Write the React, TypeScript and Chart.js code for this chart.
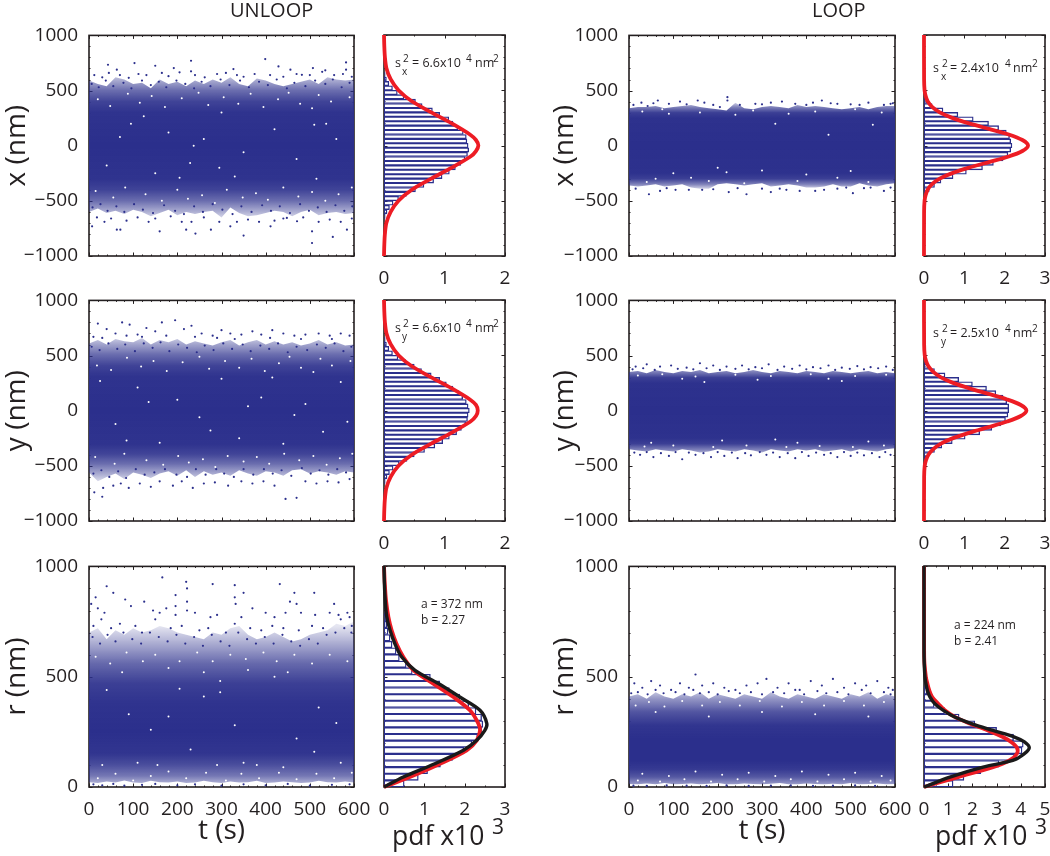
import React, { useEffect, useRef } from "react";
import { Chart, registerables } from "chart.js";
Chart.register(...registerables);

const FONT = "'Open Sans', sans-serif";
const INK = "#231f20";
const BLUE = "#2b2f8c";

const tGrid = [0,20,40,60,80,100,120,140,160,180,200,220,240,260,280,300,320,340,360,380,400,420,440,460,480,500,520,540,560,580,600];

// UNLOOP x
const ulxOuterHi = [590,560,540,620,600,560,570,520,600,560,580,540,590,560,600,570,620,560,540,610,590,560,540,560,580,600,560,620,600,590,600];
const ulxOuterLo = [-600,-570,-610,-590,-620,-580,-600,-640,-610,-580,-630,-600,-620,-600,-590,-650,-560,-610,-640,-630,-610,-590,-600,-640,-600,-580,-630,-610,-600,-620,-610];
const ulxDots = [[43,734],[63,689],[103,749],[150,725],[192,704],[231,770],[231,674],[327,695],[399,785],[429,719],[456,689],[482,643],[507,704],[535,683],[582,755],[582,689],[7,-731],[63,-761],[71,-761],[160,-776],[220,-761],[241,-797],[276,-761],[320,-731],[350,-815],[411,-731],[505,-882],[552,-827],[584,-761],[505,-776],[448,-655],[471,-685],[12,640],[30,620],[45,660],[70,640],[90,615],[112,650],[130,640],[165,660],[180,630],[205,665],[240,640],[262,620],[290,650],[310,660],[335,640],[350,625],[375,650],[410,640],[440,625],[470,650],[500,640],[528,670],[555,640],[575,650],[595,625],[18,-650],[35,-690],[50,-660],[85,-680],[110,-650],[135,-690],[150,-660],[185,-640],[210,-690],[232,-690],[260,-650],[295,-690],[335,-690],[360,-670],[385,-690],[420,-680],[440,-660],[485,-650],[520,-690],[545,-670],[570,-690],[595,-660],[6,560],[22,530],[38,590],[55,540],[78,570],[96,520],[120,590],[140,550],[158,580],[175,530],[198,590],[218,560],[238,520],[255,580],[275,540],[298,600],[318,550],[342,590],[362,530],[385,580],[405,550],[425,600],[448,520],[465,570],[490,540],[512,590],[535,560],[552,600],[572,530],[590,570],[8,-560],[26,-530],[42,-590],[62,-550],[80,-600],[102,-530],[122,-580],[145,-610],[170,-540],[195,-590],[215,-620],[238,-550],[258,-600],[280,-530],[302,-580],[325,-620],[345,-550],[368,-600],[392,-540],[412,-590],[432,-550],[455,-610],[478,-530],[498,-590],[518,-560],[538,-600],[558,-540],[578,-590],[596,-550]];
const ulxSpecks = [[124,266],[229,-157],[237,0],[295,-200],[515,-300],[510,190],[537,200],[300,300],[70,80],[150,-250],[180,120],[260,60],[350,-60],[420,150],[470,-120],[40,-180],[560,60],[330,-280],[95,200],[205,-290],[20,420],[48,360],[88,470],[115,390],[142,450],[172,350],[210,430],[248,480],[270,370],[305,440],[338,380],[366,470],[395,350],[428,420],[452,480],[478,380],[505,340],[520,460],[548,400],[590,440],[15,-410],[55,-470],[82,-380],[128,-440],[165,-500],[200,-400],[224,-480],[256,-450],[285,-520],[312,-400],[348,-470],[378,-430],[405,-490],[440,-380],[474,-460],[505,-420],[535,-500],[565,-440],[595,-380]];
const ulxStops = [[1000,0],[680,0.1],[600,0.38],[500,0.7],[400,0.9],[300,0.98],[0,1],[-300,0.98],[-400,0.9],[-500,0.7],[-600,0.38],[-680,0.1],[-1000,0]];
const ulxCurveV = [-1000,-900,-800,-700,-600,-500,-400,-300,-200,-100,-50,0,50,100,200,300,400,500,600,700,800,900,1000];
const ulxCurvePdf = [0,0.005,0.015,0.04,0.11,0.24,0.46,0.78,1.12,1.43,1.52,1.56,1.52,1.42,1.12,0.78,0.46,0.24,0.11,0.04,0.015,0.005,0];
const ulxBinV = [-640,-600,-560,-520,-480,-440,-400,-360,-320,-280,-240,-200,-160,-120,-80,-40,0,40,80,120,160,200,240,280,320,360,400,440,480,520,560,600,640];
const ulxBinPdf = [0.02,0.05,0.09,0.15,0.24,0.37,0.52,0.66,0.82,0.96,1.08,1.18,1.27,1.34,1.38,1.4,1.39,1.37,1.36,1.31,1.22,1.14,1.07,0.92,0.8,0.63,0.52,0.33,0.22,0.14,0.08,0.04,0.02];

// UNLOOP y
const ulyOuterHi = [610,640,600,650,630,620,660,600,640,620,650,600,630,610,590,620,640,590,620,640,600,630,600,620,590,610,640,600,620,590,600];
const ulyOuterLo = [-560,-640,-600,-570,-620,-560,-580,-610,-570,-550,-590,-540,-600,-550,-580,-560,-590,-540,-570,-590,-550,-560,-590,-540,-530,-570,-550,-560,-580,-550,-560];
const ulyDots = [[20,790],[40,740],[60,700],[75,800],[92,780],[110,690],[130,750],[150,720],[165,800],[195,820],[215,740],[232,770],[255,700],[280,680],[300,730],[320,700],[345,690],[370,720],[390,690],[415,730],[440,700],[465,680],[490,690],[520,700],[545,680],[570,700],[590,680],[10,670],[30,660],[85,680],[120,670],[175,680],[240,670],[290,660],[330,650],[410,660],[480,650],[550,650],[12,-740],[30,-780],[32,-700],[55,-680],[72,-660],[90,-700],[115,-660],[140,-690],[160,-640],[190,-680],[210,-640],[235,-700],[260,-660],[285,-650],[315,-680],[345,-640],[370,-660],[395,-640],[420,-680],[445,-800],[470,-790],[490,-640],[515,-660],[540,-640],[565,-650],[590,-620],[6,580],[24,550],[44,610],[64,560],[82,600],[104,540],[124,610],[144,570],[162,620],[182,540],[202,600],[222,570],[244,530],[262,590],[282,550],[304,610],[324,560],[348,600],[366,540],[388,590],[408,560],[428,610],[450,530],[470,580],[494,550],[516,600],[536,570],[556,610],[576,540],[594,580],[10,-570],[28,-540],[46,-600],[66,-550],[84,-610],[106,-530],[126,-580],[148,-560],[172,-530],[198,-580],[222,-600],[242,-530],[264,-580],[288,-530],[306,-570],[328,-600],[350,-530],[372,-580],[396,-530],[416,-570],[436,-540],[458,-590],[482,-520],[502,-570],[522,-540],[542,-580],[562,-530],[582,-560]];
const ulySpecks = [[60,-120],[110,210],[160,-290],[200,100],[250,-60],[300,290],[340,-250],[390,120],[440,-300],[490,60],[530,-190],[570,260],[25,270],[85,-270],[135,80],[275,-180],[360,40],[415,300],[465,-40],[585,-100],[18,410],[50,370],[86,480],[118,400],[146,450],[176,360],[212,440],[250,490],[272,380],[308,450],[340,390],[368,470],[398,360],[430,430],[454,490],[480,390],[508,350],[524,470],[550,410],[592,450],[14,-420],[58,-480],[80,-390],[130,-450],[168,-490],[202,-410],[226,-470],[258,-440],[286,-510],[314,-410],[350,-460],[380,-420],[408,-480],[442,-390],[476,-450],[508,-410],[538,-490],[568,-430],[596,-390]];
const ulyStops = [[1000,0],[700,0.1],[620,0.38],[510,0.7],[410,0.9],[310,0.98],[0,1],[-300,0.98],[-390,0.9],[-480,0.7],[-580,0.38],[-660,0.1],[-1000,0]];
const ulyCurveV = ulxCurveV;
const ulyCurvePdf = [0,0.005,0.015,0.04,0.11,0.24,0.46,0.78,1.12,1.43,1.52,1.55,1.52,1.42,1.12,0.78,0.46,0.24,0.11,0.04,0.015,0.005,0];
const ulyBinV = ulxBinV;
const ulyBinPdf = [0.02,0.05,0.09,0.15,0.25,0.38,0.5,0.67,0.84,0.97,1.08,1.2,1.28,1.35,1.38,1.39,1.41,1.39,1.36,1.3,1.24,1.14,1.03,0.92,0.78,0.62,0.5,0.36,0.23,0.14,0.08,0.04,0.02];

// UNLOOP r
const ulrOuterHi = [700,720,670,710,690,720,700,710,730,720,700,690,680,670,700,690,720,730,690,670,680,700,680,660,670,690,700,710,740,730,750];
const ulrOuterLo = [22,18,25,20,30,20,18,28,22,20,25,18,20,28,22,18,25,20,22,28,18,20,25,22,18,20,28,22,20,25,20];
const ulrDots = [[5,830],[15,860],[40,910],[55,880],[20,810],[35,790],[82,850],[95,820],[125,840],[145,800],[160,790],[166,950],[175,810],[196,870],[196,820],[196,780],[220,930],[222,900],[222,840],[222,800],[240,790],[280,920],[275,770],[290,780],[330,915],[330,860],[332,830],[350,880],[345,770],[370,810],[400,790],[420,770],[432,920],[445,790],[465,880],[455,840],[470,830],[480,790],[510,880],[512,780],[555,830],[545,790],[565,780],[585,790],[590,770],[10,730],[28,760],[50,720],[70,740],[105,730],[120,700],[150,760],[185,720],[210,730],[250,710],[270,720],[310,700],[330,740],[365,720],[390,710],[415,730],[440,720],[475,710],[505,730],[530,720],[570,760],[595,730],[10,12],[30,8],[55,14],[80,6],[120,10],[150,14],[200,8],[240,12],[300,6],[350,12],[400,8],[450,14],[500,6],[550,10],[590,12],[8,680],[25,650],[42,690],[60,660],[78,700],[98,670],[118,650],[138,700],[158,680],[178,660],[198,690],[218,650],[238,680],[258,640],[278,690],[298,660],[318,640],[338,700],[358,670],[378,650],[398,680],[418,650],[438,690],[458,660],[478,640],[498,670],[518,650],[538,690],[558,700],[578,720],[594,700]];
const ulrSpecks = [[360,530],[297,430],[297,480],[205,445],[90,330],[140,260],[180,320],[230,170],[260,410],[330,280],[350,110],[420,500],[470,220],[520,360],[570,110],[40,440],[30,100],[110,110],[290,100],[380,100],[440,90],[510,160],[560,290],[75,520],[155,100],[260,520],[450,520],[180,540],[15,590],[48,560],[85,610],[122,570],[150,600],[205,570],[245,610],[280,570],[320,600],[355,580],[395,610],[425,570],[465,600],[505,560],[545,600],[585,570],[20,40],[60,60],[100,30],[140,50],[180,70],[220,40],[265,65],[310,30],[345,60],[385,40],[430,65],[470,35],[515,60],[555,40],[595,65]];
const ulrStops = [[1000,0],[730,0.12],[650,0.4],[560,0.72],[470,0.92],[380,0.98],[250,1],[150,0.97],[100,0.85],[50,0.65],[20,0.4],[0,0.2]];
const ulrCurveV = [0,45,105,166,211,256,287,347,407,468,528,588,648,709,769,845,920,1000];
const ulrRedPdf = [0,0.64,1.39,2.05,2.3,2.38,2.34,2.13,1.72,1.22,0.73,0.48,0.31,0.19,0.11,0.05,0.02,0];
const ulrBlackPdf = [0,0.48,1.26,1.97,2.3,2.5,2.55,2.38,1.88,1.35,0.77,0.44,0.27,0.15,0.07,0.03,0.01,0];
const ulrBinV = [15,45,75,105,135,165,195,225,255,285,315,345,375,405,435,465,495,525,555,585,615,645,675,705,735,765,795];
const ulrBinPdf = [0.5,0.85,1.08,1.4,1.7,1.98,2.18,2.32,2.42,2.45,2.42,2.28,2.1,1.88,1.62,1.38,1.15,0.7,0.55,0.38,0.3,0.2,0.15,0.1,0.07,0.04,0.02];

// LOOP x
const loxOuterHi = [340,350,350,360,340,350,360,370,350,340,330,320,390,340,330,350,360,350,340,370,350,360,350,340,330,340,350,330,350,360,360];
const loxOuterLo = [-360,-370,-360,-350,-370,-360,-350,-380,-390,-390,-350,-340,-350,-360,-350,-340,-370,-360,-350,-360,-380,-380,-370,-350,-370,-370,-340,-360,-370,-350,-340];
const loxDots = [[28,390],[42,360],[65,410],[90,380],[115,400],[155,410],[170,390],[190,370],[222,440],[222,410],[250,370],[285,380],[320,390],[345,400],[375,380],[415,390],[435,410],[470,380],[500,375],[540,390],[575,370],[590,380],[15,-390],[45,-440],[70,-410],[105,-400],[135,-400],[165,-400],[225,-420],[265,-440],[300,-390],[320,-420],[355,-400],[385,-410],[420,-410],[470,-390],[505,-430],[545,-380],[575,-410],[10,370],[55,385],[130,375],[205,350],[300,375],[400,370],[455,385],[520,370],[595,385],[85,-385],[190,-395],[245,-385],[340,-390],[440,-400],[490,-380],[530,-385],[590,-380]];
const loxSpecks = [[60,-300],[100,-250],[200,-200],[220,-240],[300,-225],[330,200],[450,100],[500,-230],[550,190],[140,-290],[400,-260],[470,-290],[240,280],[90,290],[360,290],[30,310],[75,330],[160,300],[280,320],[420,310],[510,330],[570,300],[40,-330],[180,-320],[260,-340],[380,-320],[540,-330]];
const loxStops = [[1000,0],[400,0.12],[350,0.6],[300,0.92],[250,0.99],[0,1],[-250,0.99],[-300,0.92],[-350,0.6],[-400,0.12],[-1000,0]];
const loxCurveV = [-1000,-600,-500,-450,-400,-350,-300,-250,-200,-150,-100,-50,0,50,100,150,200,250,300,350,400,450,500,600,1000];
const loxCurvePdf = [0,0.002,0.014,0.04,0.09,0.2,0.39,0.7,1.12,1.61,2.1,2.44,2.58,2.44,2.1,1.61,1.12,0.7,0.39,0.2,0.09,0.04,0.014,0.002,0];
const loxBinV = [-480,-440,-400,-360,-320,-280,-240,-200,-160,-120,-80,-40,0,40,80,120,160,200,240,280,320,360,400,440];
const loxBinPdf = [0.02,0.06,0.13,0.26,0.42,0.72,1.05,1.45,1.72,1.96,2.08,2.15,2.18,2.15,2.12,2.04,1.85,1.6,1.22,0.84,0.47,0.2,0.07,0.02];

// LOOP y
const loyOuterHi = [350,360,340,370,350,340,360,350,370,340,350,360,340,350,370,350,340,360,350,340,360,350,340,360,350,340,350,360,340,350,340];
const loyOuterLo = [-350,-360,-370,-350,-360,-370,-350,-360,-380,-370,-350,-360,-370,-350,-360,-380,-350,-360,-370,-350,-360,-350,-370,-360,-350,-370,-350,-360,-370,-350,-340];
const loyDots = [[15,400],[40,420],[70,400],[95,410],[130,390],[160,430],[190,410],[220,400],[255,410],[285,395],[315,420],[350,400],[385,410],[415,395],[450,410],[480,390],[515,405],[545,395],[580,400],[25,-400],[55,-420],[90,-410],[120,-440],[150,-400],[185,-420],[215,-410],[245,-430],[275,-405],[310,-400],[340,-420],[375,-430],[405,-410],[440,-400],[470,-420],[500,-410],[530,-405],[565,-420],[590,-400],[8,375],[32,385],[58,370],[110,380],[145,375],[175,385],[205,370],[240,380],[270,375],[300,385],[335,370],[368,380],[400,375],[432,385],[465,370],[498,380],[530,375],[562,385],[595,370],[12,-380],[40,-375],[72,-385],[105,-375],[135,-380],[168,-385],[200,-375],[232,-380],[262,-385],[295,-375],[325,-380],[358,-385],[390,-375],[422,-380],[455,-385],[485,-375],[515,-380],[548,-385],[578,-375]];
const loySpecks = [[50,-290],[120,290],[210,-270],[290,280],[380,-290],[450,290],[540,-280],[170,260],[330,-260],[480,270],[20,320],[75,330],[150,310],[240,325],[320,315],[410,330],[510,315],[580,325],[35,-325],[100,-315],[190,-330],[265,-315],[355,-330],[430,-320],[505,-330],[575,-315]];
const loyStops = [[1000,0],[410,0.12],[355,0.6],[300,0.92],[250,0.99],[0,1],[-250,0.99],[-300,0.92],[-355,0.6],[-410,0.12],[-1000,0]];
const loyCurveV = loxCurveV;
const loyCurvePdf = [0,0.003,0.018,0.05,0.11,0.23,0.42,0.72,1.13,1.6,2.06,2.4,2.54,2.4,2.06,1.6,1.13,0.72,0.42,0.23,0.11,0.05,0.018,0.003,0];
const loyBinV = [-480,-440,-400,-360,-320,-280,-240,-200,-160,-120,-80,-40,0,40,80,120,160,200,240,280,320,360,400,440,480];
const loyBinPdf = [0.02,0.06,0.12,0.26,0.44,0.7,1.02,1.38,1.68,1.9,2.02,2.08,2.1,2.1,2.05,1.96,1.78,1.55,1.2,0.86,0.52,0.26,0.1,0.04,0.01];

// LOOP r
const lorOuterHi = [410,420,400,430,410,400,420,410,430,400,420,410,400,420,410,400,430,410,400,420,410,400,420,410,400,420,410,430,400,420,410];
const lorOuterLo = [14,12,16,13,18,12,14,16,12,15,18,13,12,16,14,12,15,18,13,12,16,14,12,15,13,18,12,14,16,13,14];
const lorDots = [[12,470],[30,450],[50,480],[70,460],[95,440],[115,470],[135,450],[150,510],[165,460],[190,470],[215,450],[240,440],[265,460],[290,470],[310,490],[335,450],[360,470],[385,440],[410,480],[435,460],[460,490],[485,450],[510,470],[535,460],[560,480],[585,450],[20,430],[60,440],[105,430],[145,440],[180,430],[225,435],[275,430],[325,430],[375,440],[425,435],[470,430],[525,440],[575,430],[595,440],[10,6],[40,5],[85,7],[130,6],[175,5],[220,7],[270,5],[320,6],[365,7],[415,5],[460,6],[510,7],[555,5],[5,425],[42,420],[78,425],[125,420],[160,425],[200,420],[250,425],[300,420],[350,425],[395,420],[445,425],[495,420],[545,425],[590,420]];
const lorSpecks = [[30,60],[90,50],[150,70],[210,55],[270,65],[330,50],[390,70],[450,55],[510,65],[570,50],[60,340],[180,320],[300,340],[420,330],[540,320],[15,370],[45,385],[80,365],[120,390],[165,370],[205,385],[250,370],[295,390],[345,365],[390,385],[440,370],[485,390],[530,370],[575,385],[20,30],[70,25],[125,35],[185,25],[245,35],[305,25],[365,35],[425,25],[485,35],[545,25],[590,30]];
const lorStops = [[1000,0],[450,0.15],[400,0.5],[340,0.82],[280,0.97],[220,1],[120,1],[80,0.95],[45,0.8],[15,0.5],[0,0.25]];
const lorCurveV = [0,45,90,120,151,178,204,226,256,287,317,347,377,407,437,468,497,558,618,1000];
const lorRedPdf = [0,1.41,2.85,3.53,3.84,3.84,3.6,3.26,2.64,1.89,1.27,0.86,0.59,0.34,0.22,0.14,0.08,0.02,0.005,0];
const lorBlackPdf = [0,1.07,2.44,3.67,4.15,4.35,4.15,3.74,2.85,1.96,1.27,0.8,0.45,0.25,0.14,0.08,0.04,0.01,0,0];
const lorBinV = [15,45,75,105,135,165,195,225,255,285,315,345,375,405,435,465];
const lorBinPdf = [1.2,1.65,2.35,3.1,3.75,4.05,4.1,3.7,3.0,2.1,1.45,0.85,0.42,0.35,0.12,0.04];

const pts = (xs: number[], ys: number[]) => xs.map((x, i) => ({ x, y: ys[i] }));
const ptsFlip = (vs: number[], ps: number[]) => vs.map((v, i) => ({ x: ps[i], y: v }));
const pairs = (a: number[][]) => a.map(([x, y]) => ({ x, y }));

const framePlugin = {
  id: "frame",
  beforeDatasetsDraw(chart: any, _a: any, o: any) {
    const { ctx, chartArea: c, scales } = chart;
    ctx.save();
    ctx.strokeStyle = INK;
    ctx.lineWidth = 1;
    const tick = (v: number, len: number, axis: "x" | "y") => {
      ctx.beginPath();
      if (axis === "x") {
        const p = Math.round(scales.x.getPixelForValue(v)) + 0.5;
        ctx.moveTo(p, c.top); ctx.lineTo(p, c.top + len);
        ctx.moveTo(p, c.bottom); ctx.lineTo(p, c.bottom - len);
      } else {
        const p = Math.round(scales.y.getPixelForValue(v)) + 0.5;
        ctx.moveTo(c.left, p); ctx.lineTo(c.left + len, p);
        ctx.moveTo(c.right, p); ctx.lineTo(c.right - len, p);
      }
      ctx.stroke();
    };
    (["x", "y"] as const).forEach((a) => {
      const s = scales[a];
      const step = a === "x" ? o.xStep : o.yStep;
      const minor = step / (a === "x" ? o.xMinor : o.yMinor);
      for (let v = s.min; v <= s.max + 1e-6; v += minor) tick(v, 1.5, a);
      s.ticks.forEach((t: any) => tick(t.value, 3.5, a));
    });
    ctx.lineWidth = 1.6;
    ctx.strokeRect(c.left, c.top, c.width, c.height);
    ctx.restore();
  },
};

const TOP = 14, RIGHT = 24;

function scaleBase(min: number, max: number, step: number, labels: boolean, fit: (s: any) => void, extra: any = {}) {
  return {
    type: "linear", min, max, offset: false,
    grid: { display: false }, border: { display: false },
    ticks: { stepSize: step, display: !!labels, autoSkip: false, maxRotation: 0, padding: 3, color: INK, font: { family: FONT, size: 19 },
      callback: (v: number) => String(v).replace("-", "\u2212") },
    afterFit: fit, ...extra,
  };
}

function densityFill(stops: number[][]) {
  return (c: any) => {
    const ch = c.chart;
    const area = ch.chartArea;
    if (!area) return BLUE;
    const s = ch.scales.y;
    const g = ch.ctx.createLinearGradient(0, area.top, 0, area.bottom);
    stops.forEach(([v, a]) => {
      const f = (s.getPixelForValue(v) - area.top) / area.height;
      g.addColorStop(Math.min(1, Math.max(0, f)), `rgba(43,47,140,${a})`);
    });
    return g;
  };
}

function scatterConfig(p: any) {
  const band = (d: number[], fillTo: any, order: number) => ({
    type: "line", data: pts(tGrid, d), pointRadius: 0, borderWidth: 0, tension: 0, fill: fillTo, backgroundColor: densityFill(p.stops), order,
  });
  return {
    type: "scatter",
    data: { datasets: [
      band(p.oh, "+1", 5), band(p.ol, false, 5),
      { type: "scatter", data: pairs(p.dots), pointRadius: 1.1, pointBorderWidth: 0, backgroundColor: BLUE, order: 2 },
      { type: "scatter", data: pairs(p.specks), pointRadius: 1, pointBorderWidth: 0, backgroundColor: "#ffffff", order: 3 },
    ] },
    options: {
      animation: false, responsive: false, devicePixelRatio: 1, events: [],
      layout: { padding: { top: TOP, right: RIGHT, left: 0, bottom: 0 } },
      plugins: { legend: { display: false }, tooltip: { enabled: false }, frame: { xStep: 100, yStep: p.yStep, xMinor: 5, yMinor: 5 } },
      scales: {
        x: scaleBase(0, 600, 100, p.xLabels, (s: any) => { s.height = p.bottom; }, p.xTitle ? { title: { display: true, text: p.xTitle, color: INK, font: { family: FONT, size: 28 }, padding: { top: 0, bottom: 8 } } } : {}),
        y: scaleBase(p.yMin, p.yMax, p.yStep, true, (s: any) => { s.width = p.leftW; }, { title: { display: true, text: p.yTitle, color: INK, font: { family: FONT, size: 28 }, padding: 0 } }),
      },
    },
    plugins: [framePlugin],
  };
}

function histConfig(p: any) {
  const curve = (d: any[], col: string, w: number, order: number) => ({
    type: "scatter", data: d, showLine: true, pointRadius: 0, borderColor: col, borderWidth: w, tension: 0.3, clip: false, order, borderJoinStyle: "round",
  });
  const ds: any[] = [
    { type: "bar", indexAxis: "y", data: ptsFlip(p.binV, p.binPdf), barThickness: p.barPx, grouped: false, backgroundColor: "rgba(255,255,255,0)", borderColor: BLUE, borderWidth: 0.7, borderSkipped: false, order: 5 },
    curve(ptsFlip(p.curveV, p.redPdf), "#ed1c24", 3.8, 2),
  ];
  if (p.blackPdf) ds.push(curve(ptsFlip(p.curveV, p.blackPdf), "#1a1a1a", 3.4, 1));
  return {
    type: "scatter",
    data: { datasets: ds },
    options: {
      animation: false, responsive: false, devicePixelRatio: 1, events: [],
      layout: { padding: { top: TOP, right: RIGHT, left: 0, bottom: 0 } },
      plugins: { legend: { display: false }, tooltip: { enabled: false }, frame: { xStep: 1, yStep: p.yStep, xMinor: 2, yMinor: 5 } },
      scales: {
        x: scaleBase(0, p.xMax, 1, true, (s: any) => { s.height = p.bottom; }),
        y: scaleBase(p.yMin, p.yMax, p.yStep, false, (s: any) => { s.width = p.leftW; }),
      },
    },
    plugins: [framePlugin],
  };
}

const rows = [{ top: 35, h: 221 }, { top: 300, h: 221 }, { top: 566, h: 221 }];
const SC = [{ left: 89, w: 265, canvasLeft: 0 }, { left: 629, w: 266, canvasLeft: 548 }];
const HI = [{ left: 384, w: 121 }, { left: 924, w: 121 }];
const XY = { yMin: -1000, yMax: 1000, yStep: 500 };
const RR = { yMin: 0, yMax: 1000, yStep: 500 };

const panels: any[] = [
  { kind: "s", c: 0, r: 0, ...XY, yTitle: "x (nm)", stops: ulxStops, oh: ulxOuterHi, ol: ulxOuterLo, dots: ulxDots, specks: ulxSpecks },
  { kind: "h", c: 0, r: 0, ...XY, xMax: 2, binV: ulxBinV, binPdf: ulxBinPdf, barPx: 4.4, curveV: ulxCurveV, redPdf: ulxCurvePdf },
  { kind: "s", c: 0, r: 1, ...XY, yTitle: "y (nm)", stops: ulyStops, oh: ulyOuterHi, ol: ulyOuterLo, dots: ulyDots, specks: ulySpecks },
  { kind: "h", c: 0, r: 1, ...XY, xMax: 2, binV: ulyBinV, binPdf: ulyBinPdf, barPx: 4.4, curveV: ulyCurveV, redPdf: ulyCurvePdf },
  { kind: "s", c: 0, r: 2, ...RR, yTitle: "r (nm)", xTitle: "t (s)", xLabels: true, stops: ulrStops, oh: ulrOuterHi, ol: ulrOuterLo, dots: ulrDots, specks: ulrSpecks },
  { kind: "h", c: 0, r: 2, ...RR, xMax: 3, binV: ulrBinV, binPdf: ulrBinPdf, barPx: 6.6, curveV: ulrCurveV, redPdf: ulrRedPdf, blackPdf: ulrBlackPdf },
  { kind: "s", c: 1, r: 0, ...XY, yTitle: "x (nm)", stops: loxStops, oh: loxOuterHi, ol: loxOuterLo, dots: loxDots, specks: loxSpecks },
  { kind: "h", c: 1, r: 0, ...XY, xMax: 3, binV: loxBinV, binPdf: loxBinPdf, barPx: 4.4, curveV: loxCurveV, redPdf: loxCurvePdf },
  { kind: "s", c: 1, r: 1, ...XY, yTitle: "y (nm)", stops: loyStops, oh: loyOuterHi, ol: loyOuterLo, dots: loyDots, specks: loySpecks },
  { kind: "h", c: 1, r: 1, ...XY, xMax: 3, binV: loyBinV, binPdf: loyBinPdf, barPx: 4.4, curveV: loyCurveV, redPdf: loyCurvePdf },
  { kind: "s", c: 1, r: 2, ...RR, yTitle: "r (nm)", xTitle: "t (s)", xLabels: true, stops: lorStops, oh: lorOuterHi, ol: lorOuterLo, dots: lorDots, specks: lorSpecks },
  { kind: "h", c: 1, r: 2, ...RR, xMax: 5, binV: lorBinV, binPdf: lorBinPdf, barPx: 6.6, curveV: lorCurveV, redPdf: lorRedPdf, blackPdf: lorBlackPdf },
];

function geometry(p: any) {
  const row = rows[p.r];
  const bottom = p.r === 2 ? 69 : 40;
  if (p.kind === "s") {
    const s = SC[p.c];
    const leftW = s.left - s.canvasLeft;
    return { bottom, leftW, cl: s.canvasLeft, ct: row.top - TOP, cw: leftW + s.w + RIGHT, ch: TOP + row.h + bottom };
  }
  const s = HI[p.c];
  const leftW = 14;
  return { bottom, leftW, cl: s.left - leftW, ct: row.top - TOP, cw: leftW + s.w + RIGHT, ch: TOP + row.h + bottom };
}

// [left x, baseline y, font size, text]
const texts: [number, number, number, string][] = [
  [230, 18, 20, "UNLOOP"], [812, 18, 20, "LOOP"],
  [392, 846, 26.5, "pdf x10"], [492, 835, 21, "3"], [935, 846, 26.5, "pdf x10"], [1035, 835, 21, "3"],
  [395, 68, 12.5, "s"], [403, 62, 10, "2"], [402, 75, 10, "x"], [412, 68, 12.5, "= 6.6x10"], [466, 62, 10, "4"], [475, 68, 12.5, "nm"], [493, 62, 10, "2"],
  [395, 333, 12.5, "s"], [403, 327, 10, "2"], [402, 340, 10, "y"], [412, 333, 12.5, "= 6.6x10"], [466, 327, 10, "4"], [475, 333, 12.5, "nm"], [493, 327, 10, "2"],
  [933, 73, 12.5, "s"], [942, 67, 10, "2"], [941, 80, 10, "x"], [950, 73, 12.5, "= 2.4x10"], [1005, 67, 10, "4"], [1013, 73, 12.5, "nm"], [1032, 67, 10, "2"],
  [933, 338, 12.5, "s"], [942, 332, 10, "2"], [941, 345, 10, "y"], [950, 338, 12.5, "= 2.5x10"], [1005, 332, 10, "4"], [1013, 338, 12.5, "nm"], [1032, 332, 10, "2"],
  [421, 609, 12, "a = 372 nm"], [421, 625, 12, "b = 2.27"],
  [954, 630, 12, "a = 224 nm"], [954, 646, 12, "b = 2.41"],
];

export default function App() {
  const refs = useRef<(HTMLCanvasElement | null)[]>([]);
  useEffect(() => {
    const charts = panels.map((p, i) => {
      const g = geometry(p);
      const cfg = p.kind === "s"
        ? scatterConfig({ ...p, bottom: g.bottom, leftW: g.leftW })
        : histConfig({ ...p, bottom: g.bottom, leftW: g.leftW });
      return new Chart(refs.current[i] as HTMLCanvasElement, cfg as any);
    });
    return () => charts.forEach((c) => c.destroy());
  }, []);
  return (
    <div style={{ position: "absolute", left: 0, top: 0, width: 1050, height: 856, overflow: "hidden", background: "#fff", fontFamily: FONT, color: INK }}>
      {panels.map((p, i) => {
        const g = geometry(p);
        return <canvas key={i} ref={(el) => { refs.current[i] = el; }} width={g.cw} height={g.ch}
          style={{ position: "absolute", left: g.cl, top: g.ct, width: g.cw, height: g.ch, display: "block" }} />;
      })}
      {texts.map(([x, b, size, t], i) => (
        <span key={i} style={{ position: "absolute", left: x, top: b - 0.888 * size, fontSize: size, lineHeight: 1, whiteSpace: "nowrap" }}>{t}</span>
      ))}
    </div>
  );
}
